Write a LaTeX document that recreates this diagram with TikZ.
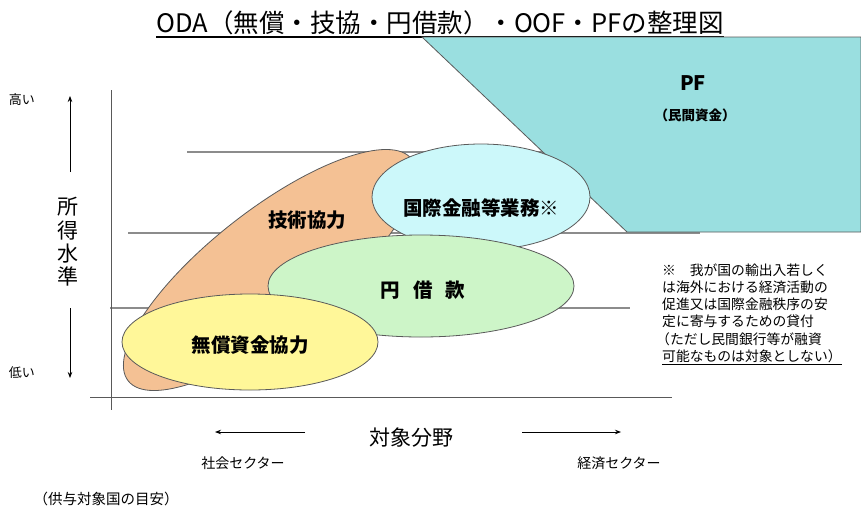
\documentclass[tikz,border=0pt]{standalone}
\usepackage{fontspec}
\setmainfont{Noto Sans CJK JP}
\usetikzlibrary{arrows.meta}
\definecolor{pfteal}{HTML}{9ADFE0}
\definecolor{orng}{HTML}{F4C194}
\definecolor{ylw}{HTML}{FFF799}
\definecolor{grn}{HTML}{CDF5C8}
\definecolor{cyn}{HTML}{CCF8FA}
\definecolor{edgec}{HTML}{5A5A5A}
\definecolor{gline}{HTML}{8C8C8C}
\begin{document}
\begin{tikzpicture}[x=1pt,y=-1pt,
  blob/.style={draw=edgec,line width=0.8pt},
  gridline/.style={draw=gline,line width=1.2pt},
  axisline/.style={draw=gray!70!black,line width=0.8pt},
  lbl/.style={font=\bfseries\fontsize{19.5}{20}\selectfont,inner sep=0},
  small/.style={font=\fontsize{13}{14}\selectfont,inner sep=0},
  note/.style={font=\fontsize{13.8}{14}\selectfont,inner sep=0,anchor=base west},
  arr/.style={-{Stealth[length=6pt,width=4.5pt]},line width=0.8pt}
]
\clip (0,0) rectangle (861,509);
\fill[white] (0,0) rectangle (861,509);

% title
\node[inner sep=0,font=\fontsize{25.5}{26}\selectfont,anchor=base] (title) at (440,32) {ODA（無償・技協・円借款）・OOF・PFの整理図};
\coordinate (tl) at ([yshift=-5pt]title.base west);
\coordinate (tr) at ([yshift=-5pt]title.base east);
\draw[line width=1.2pt] (tl) -- (tr);

% grid lines and axes
\draw[gridline] (187,152) -- (560,152);
\draw[gridline] (128,233) -- (700,233);
\draw[gridline] (110,308) -- (630,308);
\draw[axisline] (111,90) -- (111,410);
\draw[axisline] (90,397) -- (672,397);

% PF region
\draw[blob,fill=pfteal] (422,37) -- (861,37) -- (861,232) -- (627,232) -- cycle;
\node[inner sep=0,font=\bfseries\fontsize{20}{20}\selectfont] (pf) at (693,83) {PF};
\node[inner sep=0,font=\bfseries\fontsize{13.5}{14}\selectfont] (pfsub) at (695,115) {（民間資金）};

% ellipses
\draw[blob,fill=orng,rotate around={38:(270,270)}] (270,270) ellipse [x radius=180,y radius=60];
\draw[blob,fill=cyn] (481,197) ellipse [x radius=109,y radius=53];
\draw[blob,fill=grn] (421,286) ellipse [x radius=153,y radius=51];
\draw[blob,fill=ylw] (250,342) ellipse [x radius=128,y radius=48];

\node[lbl] (tech) at (307,220) {技術協力};
\node[lbl] (intl) at (481,208) {国際金融等業務※};
\node[lbl] (yen) at (423,290) {円\hspace{13pt}借\hspace{13pt}款};
\node[lbl] (grant) at (250,345) {無償資金協力};

% vertical axis labels
\node[small] (hi) at (22,100) {高い};
\node[small] (lo) at (22,373) {低い};
\node[inner sep=0,align=center,font=\fontsize{21}{23.3}\selectfont] (inc) at (68,242) {所\\得\\水\\準};
\coordinate (up1) at (70,172);
\coordinate (up2) at (70,96);
\coordinate (dn1) at (70,308);
\coordinate (dn2) at (70,378);
\draw[arr] (up1) -- (up2);
\draw[arr] (dn1) -- (dn2);

% horizontal axis labels
\node[inner sep=0,font=\fontsize{21}{22}\selectfont] (field) at (411,438) {対象分野};
\coordinate (l1) at (305,432);
\coordinate (l2) at (215,432);
\coordinate (r1) at (522,432);
\coordinate (r2) at (621,432);
\draw[arr] (l1) -- (l2);
\draw[arr] (r1) -- (r2);
\node[inner sep=0,font=\fontsize{14}{15}\selectfont] (soc) at (243,463) {社会セクター};
\node[inner sep=0,font=\fontsize{14}{15}\selectfont] (eco) at (619,463) {経済セクター};
\node[inner sep=0,font=\fontsize{14.5}{15}\selectfont] (guide) at (106,499) {（供与対象国の目安）};

% note
\node[note] (n1) at (662,275) {※　我が国の輸出入若しく};
\node[note] (n2) at (662,292.3) {は海外における経済活動の};
\node[note] (n3) at (662,309.6) {促進又は国際金融秩序の安};
\node[note] (n4) at (662,326.9) {定に寄与するための貸付};
\node[note] (n5) at (656,344.2) {（ただし民間銀行等が融資};
\node[note] (n6) at (662,361.5) {\underline{可能なものは対象としない）}};
\end{tikzpicture}
\end{document}
